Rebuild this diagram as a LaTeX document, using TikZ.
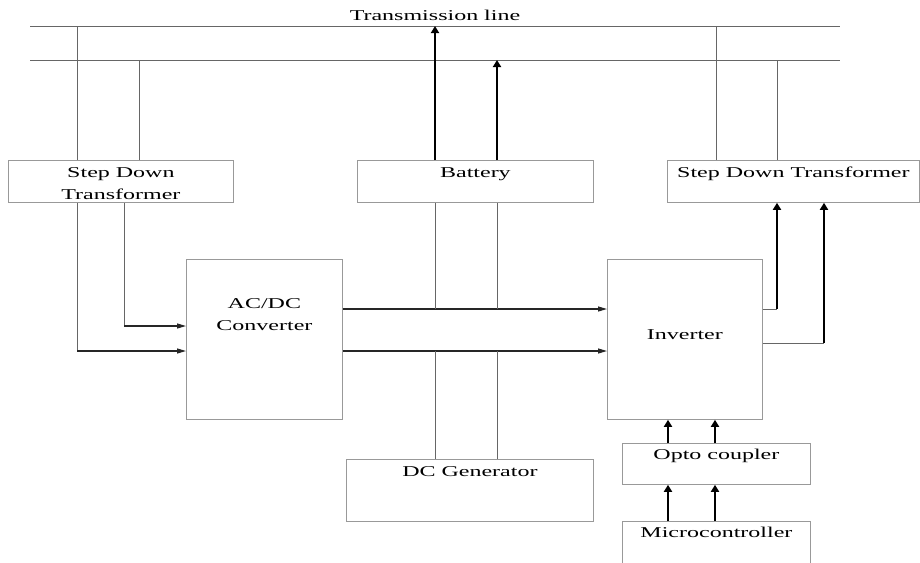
\documentclass[tikz,border=0pt]{standalone}
\usepackage{fontspec}
\setmainfont{Liberation Serif}[FakeStretch=1.6]
\usetikzlibrary{arrows.meta}

\begin{document}
\begin{tikzpicture}[x=1pt, y=-1pt,
    blk/.style={draw=black!40, line width=0.8pt, inner sep=0pt, anchor=north west},
    lbl/.style={inner sep=0pt, anchor=north, align=center,
                font=\fontsize{15}{22.5}\selectfont},
    wire/.style={draw=black!60, line width=0.8pt},
    feed/.style={draw=black!85, line width=1.2pt, -{Triangle[length=9pt,width=5pt]}},
    power/.style={draw=black, line width=2.6pt, -{Triangle[length=7pt,width=8pt]}}]
  \useasboundingbox (0,0) rectangle (920,562);

  \coordinate (busA-w) at (30,26);  \coordinate (busA-e) at (840,26);
  \coordinate (busB-w) at (30,60);  \coordinate (busB-e) at (840,60);
  \draw[wire] (busA-w) -- (busA-e);
  \draw[wire] (busB-w) -- (busB-e);
  \node[lbl] (title) at (435,10) {Transmission line};

  \node[blk, minimum width=225pt, minimum height=42pt]  (sdtL)  at (8,160)   {};
  \node[blk, minimum width=236pt, minimum height=42pt]  (bat)   at (357,160) {};
  \node[blk, minimum width=252pt, minimum height=42pt]  (sdtR)  at (667,160) {};
  \node[blk, minimum width=156pt, minimum height=160pt] (acdc)  at (186,259) {};
  \node[blk, minimum width=155pt, minimum height=160pt] (inv)   at (607,259) {};
  \node[blk, minimum width=247pt, minimum height=62pt]  (dcgen) at (346,459) {};
  \node[blk, minimum width=188pt, minimum height=41pt]  (opto)  at (622,443) {};
  \node[blk, minimum width=188pt, minimum height=60pt]  (micro) at (622,521) {};

  \node[lbl] (sdtL-t)  at ([yshift=-7pt]sdtL.north)  {Step Down\\Transformer};
  \node[lbl] (bat-t)   at ([yshift=-7pt]bat.north)   {Battery};
  \node[lbl] (sdtR-t)  at ([yshift=-7pt]sdtR.north)  {Step Down Transformer};
  \node[lbl] (acdc-t)  at ([yshift=-39pt]acdc.north) {AC/DC\\Converter};
  \node[lbl] (inv-t)   at ([yshift=-70pt]inv.north)  {Inverter};
  \node[lbl] (dcgen-t) at ([yshift=-7pt]dcgen.north) {DC Generator};
  \node[lbl] (opto-t)  at ([yshift=-6pt]opto.north)  {Opto coupler};
  \node[lbl] (micro-t) at ([yshift=-6pt]micro.north) {Microcontroller};

  \coordinate (colLa) at (77,0);   \coordinate (colLb) at (124,0);
  \coordinate (colLc) at (139,0);  \coordinate (colBa) at (435,0);
  \coordinate (colBb) at (497,0);  \coordinate (colOa) at (668,0);
  \coordinate (colOb) at (715,0);  \coordinate (colRa) at (716,0);
  \coordinate (colRb) at (777,0);  \coordinate (colRc) at (824,0);
  \coordinate (rowIn) at (0,326);  \coordinate (rowUp) at (0,309);
  \coordinate (rowLo) at (0,351);  \coordinate (rowOut) at (0,343);

  \draw[wire] (sdtL.north -| colLa) -- (busA-w -| colLa);
  \draw[wire] (sdtL.north -| colLc) -- (busB-w -| colLc);
  \draw[wire] (sdtR.north -| colRa) -- (busA-w -| colRa);
  \draw[wire] (sdtR.north -| colRb) -- (busB-w -| colRb);
  \draw[power] (bat.north -| colBa) -- (busA-w -| colBa);
  \draw[power] (bat.north -| colBb) -- (busB-w -| colBb);

  \draw[wire] (sdtL.south -| colLa) -- (rowLo -| colLa);
  \draw[wire] (sdtL.south -| colLb) -- (rowIn -| colLb);
  \draw[feed] (rowLo -| colLa) -- (acdc.west |- rowLo);
  \draw[feed] (rowIn -| colLb) -- (acdc.west |- rowIn);

  \draw[feed] (acdc.east |- rowUp) -- (inv.west |- rowUp);
  \draw[feed] (acdc.east |- rowLo) -- (inv.west |- rowLo);
  \draw[wire] (bat.south -| colBa) -- (rowUp -| colBa);
  \draw[wire] (bat.south -| colBb) -- (rowUp -| colBb);
  \draw[wire] (dcgen.north -| colBa) -- (rowLo -| colBa);
  \draw[wire] (dcgen.north -| colBb) -- (rowLo -| colBb);

  \draw[wire] (inv.east |- rowUp) -- (rowUp -| colRb);
  \draw[wire] (inv.east |- rowOut) -- (rowOut -| colRc);
  \draw[power] (rowUp -| colRb) -- (sdtR.south -| colRb);
  \draw[power] (rowOut -| colRc) -- (sdtR.south -| colRc);

  \draw[power] (opto.north -| colOa) -- (inv.south -| colOa);
  \draw[power] (opto.north -| colOb) -- (inv.south -| colOb);
  \draw[power] (micro.north -| colOa) -- (opto.south -| colOa);
  \draw[power] (micro.north -| colOb) -- (opto.south -| colOb);
\end{tikzpicture}
\end{document}
